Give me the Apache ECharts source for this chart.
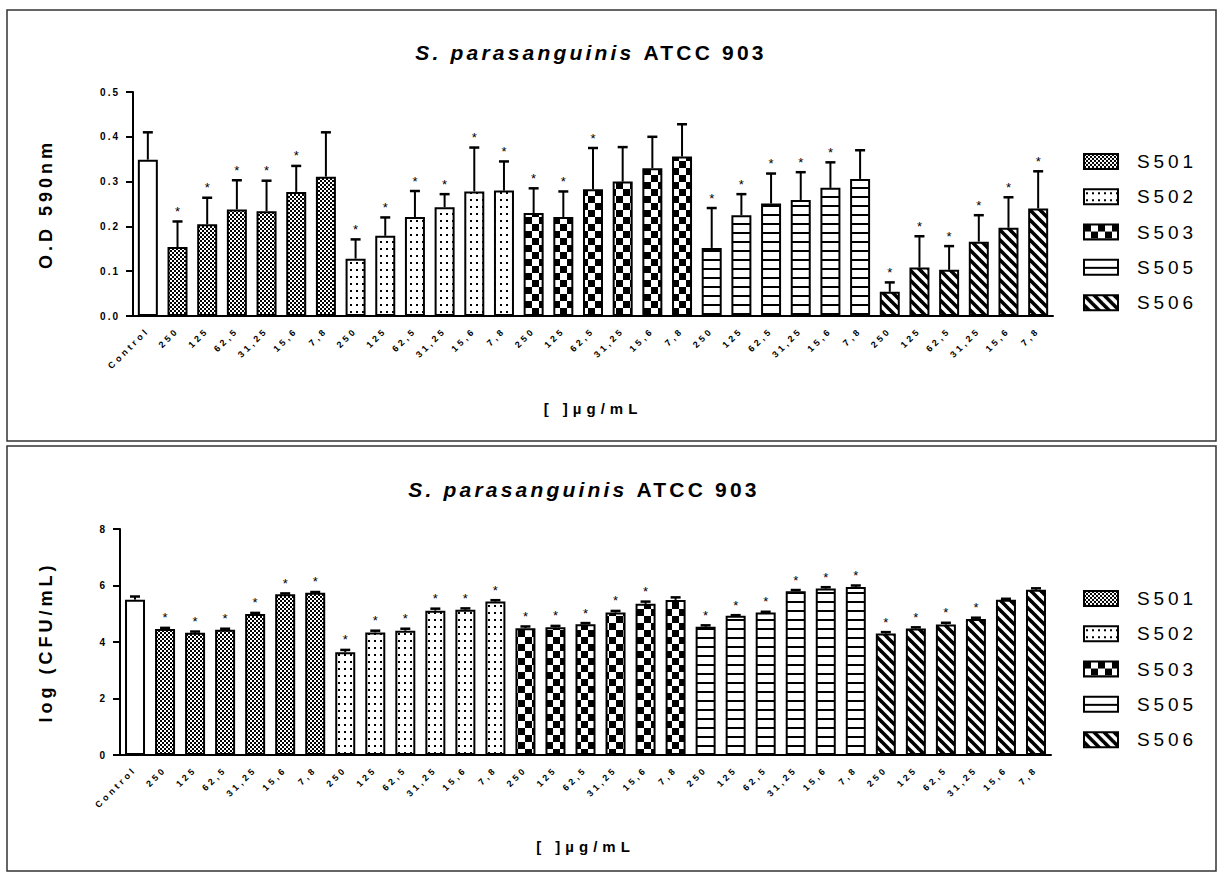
<!DOCTYPE html>
<html>
<head>
<meta charset="utf-8">
<title>S. parasanguinis ATCC 903</title>
<script src="https://cdn.jsdelivr.net/npm/echarts@6/dist/echarts.min.js"></script>
<style>
  html, body { margin: 0; padding: 0; background: #fff; }
  #chart { width: 1219px; height: 872px; }
</style>
</head>
<body>
<div id="chart"></div>
<script>
// categories on the x axis
const concs = ['250', '125', '62,5', '31,25', '15,6', '7,8'];
const groups = ['S501', 'S502', 'S503', 'S505', 'S506'];
const categories = ['Control'].concat(...groups.map(() => concs));

// top panel: O.D 590nm, mean and upper SD
const odMean = [0.349,
  0.154, 0.205, 0.238, 0.234, 0.277, 0.311,
  0.128, 0.179, 0.221, 0.243, 0.278, 0.280,
  0.230, 0.221, 0.283, 0.300, 0.330, 0.356,
  0.152, 0.225, 0.251, 0.259, 0.286, 0.306,
  0.054, 0.108, 0.103, 0.166, 0.197, 0.240];
const odSd = [0.061,
  0.057, 0.059, 0.065, 0.068, 0.058, 0.099,
  0.043, 0.041, 0.058, 0.029, 0.098, 0.065,
  0.055, 0.057, 0.092, 0.077, 0.070, 0.072,
  0.089, 0.047, 0.067, 0.062, 0.057, 0.064,
  0.021, 0.070, 0.053, 0.059, 0.068, 0.083];
const odSig = [0,
  1, 1, 1, 1, 1, 0,
  1, 1, 1, 1, 1, 1,
  1, 1, 1, 0, 0, 0,
  1, 1, 1, 1, 1, 0,
  1, 1, 1, 1, 1, 1];

// bottom panel: log (CFU/mL)
const cfuMean = [5.50,
  4.46, 4.33, 4.43, 4.99, 5.69, 5.74,
  3.64, 4.34, 4.40, 5.11, 5.14, 5.43,
  4.49, 4.52, 4.63, 5.04, 5.35, 5.49,
  4.54, 4.93, 5.04, 5.80, 5.89, 5.95,
  4.30, 4.48, 4.62, 4.81, 5.50, 5.85];
const cfuSd = [0.11,
  0.04, 0.04, 0.04, 0.04, 0.03, 0.03,
  0.08, 0.06, 0.07, 0.07, 0.05, 0.05,
  0.06, 0.05, 0.04, 0.06, 0.08, 0.09,
  0.05, 0.02, 0.03, 0.04, 0.05, 0.05,
  0.05, 0.04, 0.06, 0.05, 0.03, 0.05];
const cfuSig = [0,
  1, 1, 1, 1, 1, 1,
  1, 1, 1, 1, 1, 1,
  1, 1, 1, 1, 1, 0,
  1, 1, 1, 1, 1, 1,
  1, 1, 1, 1, 0, 0];

const FONT = 'Liberation Sans, Arial, sans-serif';
// letter spacing (px) per font size, the prism-style spaced text
const SPACING = { 21: 3.2, 19: 3.9, 18: 4, 15: 5, 10: 2, 9: 3.2 };

// make layout aware of the spacing
const mctx = document.createElement('canvas').getContext('2d');
if (echarts.setPlatformAPI) {
  echarts.setPlatformAPI({
    measureText(text, font) {
      mctx.font = font || '12px sans-serif';
      const w = mctx.measureText(text).width;
      const m = /(\d+(?:\.\d+)?)px/.exec(font || '');
      const s = m ? (SPACING[parseFloat(m[1])] || 0) : 0;
      return { width: w + s * String(text).length };
    }
  });
}

function tile(w, h, draw) {
  const c = document.createElement('canvas');
  c.width = w; c.height = h;
  const ctx = c.getContext('2d');
  ctx.fillStyle = '#fff';
  ctx.fillRect(0, 0, w, h);
  ctx.fillStyle = '#000';
  ctx.strokeStyle = '#000';
  draw(ctx);
  return { image: c, repeat: 'repeat', imageWidth: w, imageHeight: h };
}

const fills = {
  Control: '#fff',
  S501: tile(4, 4, (c) => { c.fillRect(0, 0, 2, 2); c.fillRect(2, 2, 2, 2); }),
  S502: tile(6, 7, (c) => { c.fillRect(2, 3, 2, 2); }),
  S503: tile(14, 14, (c) => { c.fillRect(0, 0, 7, 7); c.fillRect(7, 7, 7, 7); }),
  S505: tile(4, 9, (c) => { c.fillRect(0, 7, 4, 2); }),
  S506: tile(10, 10, (c) => {
    c.lineWidth = 3.6;
    [-10, 0, 10].forEach((o) => {
      c.beginPath(); c.moveTo(o - 2, -2); c.lineTo(o + 12, 12); c.stroke();
    });
  })
};

function groupOf(i) {
  return i === 0 ? 'Control' : groups[Math.floor((i - 1) / concs.length)];
}

function renderErr(params, api) {
  const i = api.value(0);
  const base = api.coord([i, api.value(1)]);
  const top = api.coord([i, api.value(2)]);
  const x = base[0];
  const children = [
    { type: 'line', shape: { x1: x, y1: base[1], x2: x, y2: top[1] }, style: { stroke: '#000', lineWidth: 2 } },
    { type: 'line', shape: { x1: x - 5, y1: top[1], x2: x + 5, y2: top[1] }, style: { stroke: '#000', lineWidth: 2.5 } }
  ];
  if (api.value(3)) {
    children.push({
      type: 'text',
      style: { text: '*', x: x, y: top[1] - 10, align: 'center', verticalAlign: 'middle', font: '13px ' + FONT, fill: '#000' }
    });
  }
  return { type: 'group', children };
}

function panelSeries(gi, mean, sd, sig) {
  const list = ['Control'].concat(groups).map((g) => ({
    type: 'bar',
    name: g,
    xAxisIndex: gi,
    yAxisIndex: gi,
    barWidth: 20,
    barGap: '-100%',
    itemStyle: { color: fills[g], borderColor: '#000', borderWidth: 2 },
    data: mean.map((v, i) => (groupOf(i) === g ? v : '-'))
  }));
  list.push({
    type: 'custom',
    xAxisIndex: gi,
    yAxisIndex: gi,
    z: 5,
    data: mean.map((v, i) => [i, v, v + sd[i], sig[i]]),
    renderItem: renderErr
  });
  return list;
}

const txt = { color: '#000', fontFamily: FONT };

function xAxis(gi, nameGap) {
  return {
    type: 'category',
    gridIndex: gi,
    data: categories,
    boundaryGap: true,
    axisLine: { lineStyle: { color: '#000', width: 2 } },
    axisTick: { alignWithLabel: true, length: 8, lineStyle: { color: '#000', width: 2 } },
    axisLabel: Object.assign({ rotate: 45, interval: 0, margin: 13, fontSize: 9, fontWeight: 'bold' }, txt),
    name: '[ ]µg/mL',
    nameLocation: 'middle',
    nameGap: nameGap,
    nameTextStyle: Object.assign({ fontSize: 15, fontWeight: 'bold' }, txt)
  };
}

function yAxis(gi, max, step, digits, name, nameGap) {
  return {
    type: 'value',
    gridIndex: gi,
    min: 0,
    max: max,
    interval: step,
    splitLine: { show: false },
    axisLine: { show: true, lineStyle: { color: '#000', width: 2 } },
    axisTick: { show: true, length: 7, lineStyle: { color: '#000', width: 2 } },
    axisLabel: Object.assign({ margin: 13, fontSize: 10, fontWeight: 'bold', formatter: (v) => v.toFixed(digits) }, txt),
    name: name,
    nameLocation: 'middle',
    nameRotate: 90,
    nameGap: nameGap,
    nameTextStyle: Object.assign({ fontSize: 18, fontWeight: 'bold' }, txt)
  };
}

function title(x, y) {
  return {
    text: '{i|S. parasanguinis} {b|ATCC 903}',
    left: x,
    top: y,
    textAlign: 'center',
    padding: 0,
    textStyle: {
      fontSize: 21, fontWeight: 'bold', color: '#000', fontFamily: FONT,
      rich: {
        i: { fontSize: 21, fontWeight: 'bold', fontStyle: 'italic', color: '#000', fontFamily: FONT },
        b: { fontSize: 21, fontWeight: 'bold', color: '#000', fontFamily: FONT }
      }
    }
  };
}

function legend(y) {
  return {
    data: groups,
    orient: 'vertical',
    left: 1078,
    top: y,
    itemWidth: 34,
    itemHeight: 15,
    itemGap: 12.4,
    icon: 'rect',
    selectedMode: false,
    itemStyle: { borderColor: '#000', borderWidth: 2 },
    textStyle: { fontSize: 19, color: '#000', fontFamily: FONT, padding: [0, 0, 0, 14] }
  };
}

const chart = echarts.init(document.getElementById('chart'), null, { renderer: 'svg' });

chart.setOption({
  animation: false,
  backgroundColor: '#fff',
  title: [title(591, 40), title(584, 477)],
  legend: [legend(145), legend(582)],
  grid: [
    { left: 133, top: 92, width: 920, height: 224 },
    { left: 120, top: 529, width: 931, height: 226 }
  ],
  xAxis: [xAxis(0, 82), xAxis(1, 81)],
  yAxis: [
    yAxis(0, 0.5, 0.1, 1, 'O.D 590nm', 76),
    yAxis(1, 8, 2, 0, 'log (CFU/mL)', 63)
  ],
  graphic: [
    { type: 'rect', silent: true, shape: { x: 7, y: 10, width: 1209, height: 431 }, style: { fill: 'none', stroke: '#333', lineWidth: 1.5 } },
    { type: 'rect', silent: true, shape: { x: 7, y: 446, width: 1209, height: 425 }, style: { fill: 'none', stroke: '#333', lineWidth: 1.5 } }
  ],
  series: panelSeries(0, odMean, odSd, odSig).concat(panelSeries(1, cfuMean, cfuSd, cfuSig))
});

// apply the letter spacing to the drawn svg text
function applySpacing() {
  document.querySelectorAll('#chart svg text').forEach((el) => {
    const fs = parseFloat(getComputedStyle(el).fontSize);
    const s = SPACING[fs];
    if (s != null) el.setAttribute('letter-spacing', s);
  });
}
applySpacing();
chart.on('finished', applySpacing);
</script>
</body>
</html>
